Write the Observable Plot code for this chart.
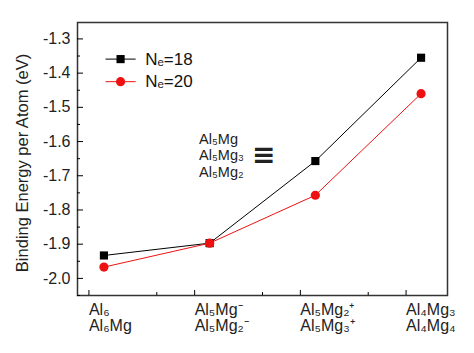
<!DOCTYPE html>
<html><head><meta charset="utf-8">
<script src="https://cdn.jsdelivr.net/npm/d3@7"></script>
<script src="https://cdn.jsdelivr.net/npm/@observablehq/plot@0.6"></script>
<style>body{margin:0;background:#fff;} svg{font-family:"Liberation Sans",Arial,sans-serif;}</style>
</head><body><div id="chart"></div>
<script>
const categories = ["Al₆\nAl₆Mg", "Al₅Mg⁻\nAl₅Mg₂⁻", "Al₅Mg₂⁺\nAl₅Mg₃⁺", "Al₄Mg₃\nAl₄Mg₄"];
const seriesNames = ["Nₑ=18", "Nₑ=20"];
const seriesColors = ["#000000", "#ee1111"];
const seriesSymbols = ["square", "circle"];
const ne18 = [-1.933, -1.897, -1.657, -1.355];
const ne20 = [-1.967, -1.897, -1.757, -1.460];
const yTicks = [-2.0, -1.9, -1.8, -1.7, -1.6, -1.5, -1.4, -1.3];
const yMinor = [-2.05, -1.95, -1.85, -1.75, -1.65, -1.55, -1.45, -1.35];
const xMinor = [0.5, 1.5, 2.5];
const annotation = ["Al₅Mg", "Al₅Mg₃", "Al₅Mg₂"];
const yLabel = "Binding Energy per Atom (eV)";

const rows = [];
[ne18, ne20].forEach((vals, s) => vals.forEach((v, i) => rows.push({i, v, s: seriesNames[s]})));

const legendMarks = seriesNames.flatMap((name, k) => {
  const y = -1.359 - k * 0.066;
  return [
    Plot.link([name], {x1: 0.015, x2: 0.30, y1: y, y2: y, stroke: seriesColors[k], strokeWidth: 1}),
    Plot.dot([name], {x: 0.1575, y: y, symbol: seriesSymbols[k], fill: seriesColors[k], r: 4.6}),
    Plot.text([name], {x: 0.39, y: y, text: d => d, textAnchor: "start", fontSize: 17, fill: "#111"})
  ];
});

const chart = Plot.plot({
  width: 474, height: 353,
  marginTop: 22, marginBottom: 58, marginLeft: 77, marginRight: 27,
  style: {fontFamily: "'Liberation Sans', Arial, sans-serif", background: "#fff"},
  x: {domain: [-0.25, 3.25]},
  y: {domain: [-2.05, -1.252]},
  marks: [
    Plot.frame({stroke: "#333", strokeWidth: 1.5}),
    Plot.axisY({ticks: yTicks, tickSize: -6, tickPadding: 13, tickFormat: d => d.toFixed(1), fontSize: 16, fill: "#222", label: null}),
    Plot.axisY({ticks: yMinor, tickSize: -3, tickFormat: () => "", label: null}),
    Plot.text([yLabel], {frameAnchor: "left", dx: -55, dy: 4, rotate: -90, text: d => d, fontSize: 16.5, fill: "#222", textAnchor: "middle"}),
    Plot.axisX({ticks: [0, 1, 2, 3], tickSize: -5, tickPadding: 13, tickFormat: i => categories[i], fontSize: 16,
      textAnchor: "start", dx: -15, lineHeight: 1.0, fill: "#222", label: null}),
    Plot.axisX({ticks: xMinor, tickSize: -3, tickFormat: () => "", label: null}),
    Plot.line(rows, {x: "i", y: "v", z: "s", stroke: d => d.s, strokeWidth: 1}),
    Plot.dot(rows.filter(d => d.s === seriesNames[0]), {x: "i", y: "v", symbol: "square", fill: seriesColors[0], r: 4.6}),
    Plot.dot(rows.filter(d => d.s === seriesNames[1]), {x: "i", y: "v", symbol: "circle", fill: seriesColors[1], r: 4.6}),
    ...legendMarks,
    Plot.text([annotation.join("\n")], {x: 0.9, y: -1.64, text: d => d, textAnchor: "start", fontSize: 14.5, lineHeight: 1.12, fill: "#222"}),
    Plot.text(["≡"], {x: 1.4, y: -1.638, text: d => d, textAnchor: "start", fontSize: 28, fontWeight: "bold", fontFamily: "DejaVu Sans", fill: "#222"})
  ],
  color: {domain: seriesNames, range: seriesColors}
});
document.getElementById("chart").appendChild(chart);
</script></body></html>
